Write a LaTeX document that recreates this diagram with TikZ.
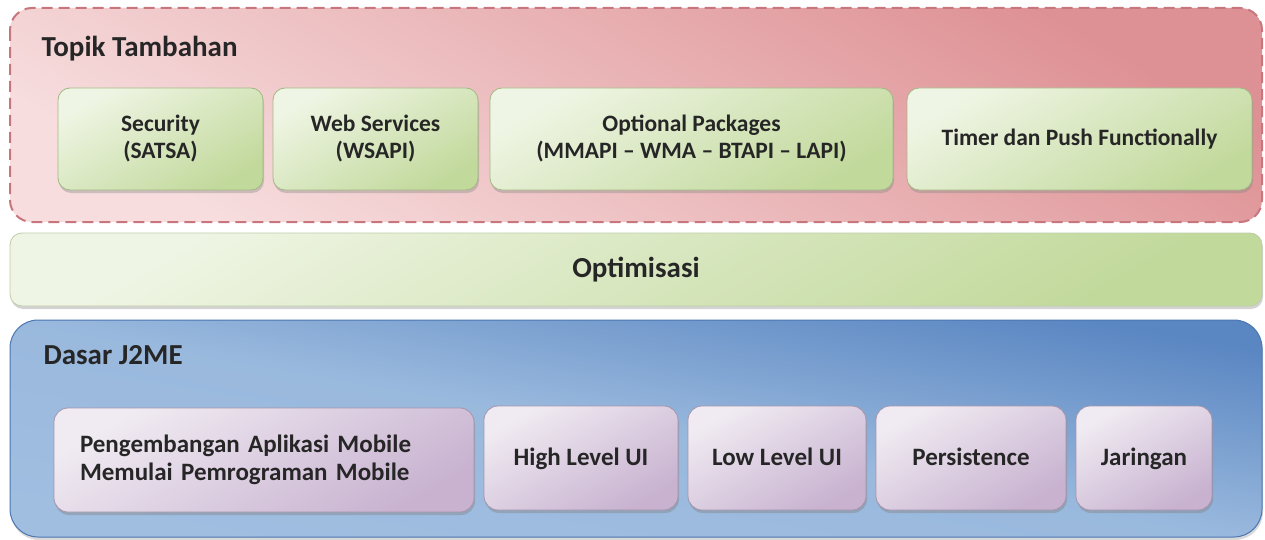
\documentclass[tikz,border=0pt]{standalone}
\usepackage{fontspec}
\setmainfont{Carlito}
\usetikzlibrary{positioning,shadows}

\definecolor{pinkL}{HTML}{F7DDDE}
\definecolor{pinkD}{HTML}{DE9194}
\definecolor{pinkB}{HTML}{C8767D}
\definecolor{greenL}{HTML}{EFF5E4}
\definecolor{greenD}{HTML}{C2D99C}
\definecolor{greenB}{HTML}{A3B884}
\definecolor{blueL}{HTML}{A0BEE0}
\definecolor{blueD}{HTML}{5A86C2}
\definecolor{blueB}{HTML}{4B76B0}
\definecolor{purpL}{HTML}{F0EBF2}
\definecolor{purpD}{HTML}{C8B2D0}
\definecolor{purpB}{HTML}{A495AC}
\definecolor{inkc}{HTML}{262626}

\begin{document}
\begin{tikzpicture}[x=1pt, y=-1pt,
    greenbox/.style={draw=greenB, line width=0.8pt, rounded corners=12pt,
      bottom color=greenD, top color=greenL, shading angle=30,
      drop shadow={shadow xshift=1pt, shadow yshift=-3pt, opacity=0.35},
      minimum height=102pt, inner sep=0pt, align=center, text=inkc,
      font=\bfseries\fontsize{23.5}{27}\selectfont},
    purplebox/.style={draw=purpB, line width=0.8pt, rounded corners=14pt,
      top color=purpD, bottom color=purpL, shading angle=-150,
      drop shadow={shadow xshift=1pt, shadow yshift=-3pt, opacity=0.4},
      minimum height=104pt, inner sep=0pt, align=center, text=inkc,
      font=\bfseries\fontsize{25}{28}\selectfont},
    oneline/.style={text height=17pt, text depth=3pt},
    titletext/.style={anchor=base west, text=inkc, font=\bfseries\fontsize{29}{33}\selectfont}]
  \useasboundingbox (0,0) rectangle (1265,540);

  % Topik Tambahan
  \draw[pinkB, line width=2pt, dash pattern=on 11pt off 6pt, rounded corners=22pt,
        bottom color=pinkL, top color=pinkD, shading angle=-30]
    (10,8) rectangle (1262,222);
  \node[titletext] (topik) at (38,57) {Topik Tambahan};

  \node[greenbox, minimum width=205pt] (security) at (160.5,139) {Security\\(SATSA)};
  \node[greenbox, minimum width=205pt] (webserv) at (375.5,139) {Web Services\\(WSAPI)};
  \node[greenbox, minimum width=403pt] (optpkg) at (691.5,139) {Optional Packages\\(MMAPI -- WMA -- BTAPI -- LAPI)};
  \node[greenbox, minimum width=345pt] (timer) at (1079.5,139) {Timer dan Push Functionally};

  % Optimisasi
  \node[greenbox, minimum width=1252pt, minimum height=73pt, draw=greenB!70,
        font=\bfseries\fontsize{29}{33}\selectfont] (optim) at (636,269.5) {Optimisasi};

  % Dasar J2ME
  \draw[blueB, line width=1pt, rounded corners=28pt,
        top color=blueD, bottom color=blueL, middle color=blueL!90!blueD, shading angle=-10,
        drop shadow={shadow xshift=1pt, shadow yshift=-3pt, opacity=0.3}]
    (10,320) rectangle (1262,537);
  \node[titletext] (dasar) at (40,364) {Dasar J2ME};

  \node[purplebox, minimum width=420pt, text width=368pt, align=left] (pengembangan) at (264,460)
    {Pengembangan Aplikasi Mobile\\Memulai Pemrograman Mobile};
  \node[purplebox, oneline, minimum width=194pt] (highui) at (581,458) {High Level UI};
  \node[purplebox, oneline, minimum width=178pt] (lowui) at (777,458) {Low Level UI};
  \node[purplebox, oneline, minimum width=190pt] (persist) at (971,458) {Persistence};
  \node[purplebox, oneline, minimum width=136pt] (jaringan) at (1144,458) {Jaringan};
\end{tikzpicture}
\end{document}
